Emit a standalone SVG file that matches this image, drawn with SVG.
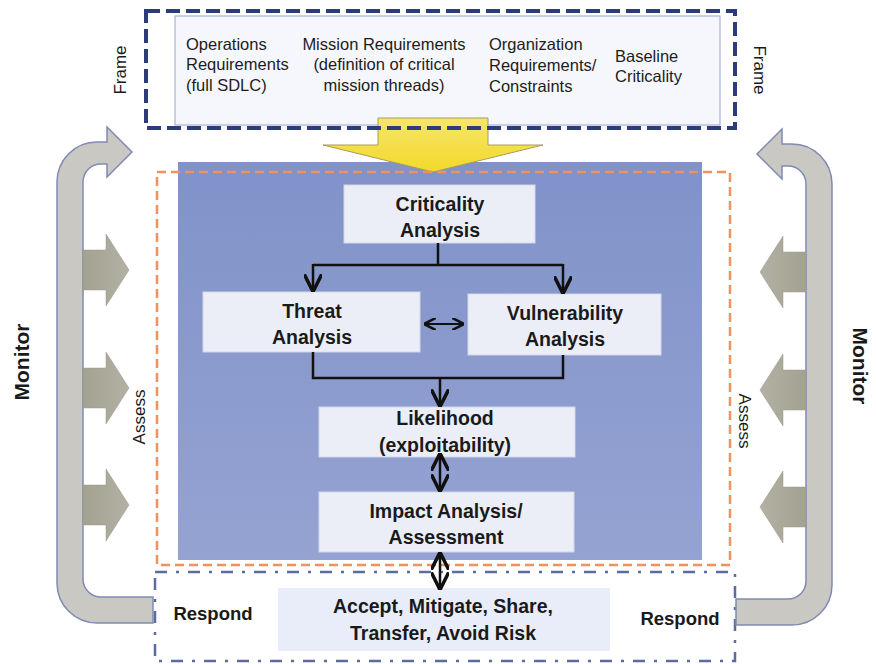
<svg xmlns="http://www.w3.org/2000/svg" width="876" height="664" viewBox="0 0 876 664">
<defs>
<linearGradient id="panelGrad" x1="0" y1="0" x2="0" y2="1">
<stop offset="0" stop-color="#8092c9"/>
<stop offset="1" stop-color="#95a3d2"/>
</linearGradient>
<linearGradient id="yellowGrad" x1="0" y1="0" x2="0" y2="1">
<stop offset="0" stop-color="#f6e56a"/>
<stop offset="1" stop-color="#f3d92a"/>
</linearGradient>
<linearGradient id="smallGrad" x1="0" y1="0" x2="1" y2="0">
<stop offset="0" stop-color="#a3a190"/>
<stop offset="1" stop-color="#b3b1a4"/>
</linearGradient>
<marker id="ahs" viewBox="0 0 10 10" refX="9" refY="5" markerWidth="7" markerHeight="7" orient="auto-start-reverse" markerUnits="strokeWidth">
<path d="M0,0 L10,5 L0,10" fill="none" stroke="#111" stroke-width="2"/>
</marker>
</defs>
<style>
.t{font-family:"Liberation Sans",Arial,sans-serif;font-size:16.5px;fill:#1c1c1c}
.b{font-family:"Liberation Sans",Arial,sans-serif;font-size:19.5px;font-weight:bold;fill:#1a1a1a;text-anchor:middle}
.side{font-family:"Liberation Sans",Arial,sans-serif;fill:#1a1a1a;text-anchor:middle}
.node{fill:#eceef7;stroke:#d2d6e8;stroke-width:1}
.big{fill:#c9c8c3;stroke:#7f8ab3;stroke-width:1.5}
.small{fill:url(#smallGrad);stroke:#9a988a;stroke-width:0.5}
.conn{fill:none;stroke:#111;stroke-width:2.5}
</style>

<!-- Frame section -->
<g id="frame">
<rect x="175" y="16" width="545" height="109" fill="#f6f7fc" stroke="#a9b1d3" stroke-width="1.2"/>
<text class="t" x="186" y="50">Operations</text>
<text class="t" x="186" y="70">Requirements</text>
<text class="t" x="186" y="91">(full SDLC)</text>
<text class="t" x="384" y="50" text-anchor="middle">Mission Requirements</text>
<text class="t" x="384" y="70" text-anchor="middle">(definition  of critical</text>
<text class="t" x="384" y="91" text-anchor="middle">mission threads)</text>
<text class="t" x="489" y="50">Organization</text>
<text class="t" x="489" y="71">Requirements/</text>
<text class="t" x="489" y="92">Constraints</text>
<text class="t" x="615" y="62">Baseline</text>
<text class="t" x="615" y="82">Criticality</text>
</g>

<!-- Assess panel -->
<g id="assess-panel">
<rect x="178" y="162" width="524" height="398" fill="url(#panelGrad)"/>
</g>

<!-- Yellow arrow -->
<g id="frame-arrow">
<path d="M378,118 L488,118 L488,145 L543,145 L433,172 L323,145 L378,145 Z" fill="url(#yellowGrad)" stroke="#a89c5a" stroke-width="1"/>
</g>

<rect x="146" y="11" width="589" height="117" fill="none" stroke="#2c3b7c" stroke-width="4" stroke-dasharray="14 6"/>
<rect x="157" y="172" width="573" height="393" fill="none" stroke="#f0915e" stroke-width="2.5" stroke-dasharray="9 5"/>
<rect x="155" y="572" width="580" height="89" fill="none" stroke="#5d6c9e" stroke-width="2.5" stroke-dasharray="12 9 3 9"/>

<!-- Monitor loops -->
<g id="monitor-left">
<path class="big" d="M107,142 L97,142 A40,40 0 0 0 57,182 L57,583 A40,40 0 0 0 97,623 L153,623 L153,597 L101,597 A18,18 0 0 1 83,579 L83,182 A18,18 0 0 1 101,164 L107,164 L107,177 L132,152 L107,127 Z"/>
<path class="small" d="M83,250 L106,250 L106,234 L129,270 L106,306 L106,290 L83,290 Z"/>
<path class="small" d="M83,368 L106,368 L106,352 L129,388 L106,424 L106,408 L83,408 Z"/>
<path class="small" d="M83,485 L106,485 L106,469 L129,505 L106,541 L106,525 L83,525 Z"/>
</g>
<g id="monitor-right" transform="translate(889,2) scale(-1,1)">
<path class="big" d="M107,142 L97,142 A40,40 0 0 0 57,182 L57,583 A40,40 0 0 0 97,623 L153,623 L153,597 L101,597 A18,18 0 0 1 83,579 L83,182 A18,18 0 0 1 101,164 L107,164 L107,177 L132,152 L107,127 Z"/>
<path class="small" d="M83,250 L106,250 L106,234 L129,270 L106,306 L106,290 L83,290 Z"/>
<path class="small" d="M83,368 L106,368 L106,352 L129,388 L106,424 L106,408 L83,408 Z"/>
<path class="small" d="M83,485 L106,485 L106,469 L129,505 L106,541 L106,525 L83,525 Z"/>
</g>

<!-- Side labels -->
<g id="labels">
<text class="side" font-size="17" transform="translate(126,70) rotate(-90)">Frame</text>
<text class="side" font-size="17" transform="translate(754,70) rotate(90)">Frame</text>
<text class="side" font-size="21" font-weight="bold" transform="translate(29,362) rotate(-90)">Monitor</text>
<text class="side" font-size="21" font-weight="bold" transform="translate(853,366) rotate(90)">Monitor</text>
<text class="side" font-size="17" transform="translate(145,417) rotate(-90)">Assess</text>
<text class="side" font-size="17" transform="translate(739,421) rotate(90)">Assess</text>
<text class="side" font-size="18.5" font-weight="bold" x="213" y="620">Respond</text>
<text class="side" font-size="18.5" font-weight="bold" x="680" y="625">Respond</text>
</g>

<!-- Nodes -->
<g id="criticality">
<rect class="node" x="344" y="185" width="191" height="58"/>
<text class="b" x="440" y="211">Criticality</text>
<text class="b" x="440" y="237">Analysis</text>
</g>
<g id="threat">
<rect class="node" x="203" y="292" width="217" height="60"/>
<text class="b" x="312" y="318">Threat</text>
<text class="b" x="312" y="344">Analysis</text>
</g>
<g id="vulnerability">
<rect class="node" x="468" y="294" width="193" height="61"/>
<text class="b" x="565" y="320">Vulnerability</text>
<text class="b" x="565" y="346">Analysis</text>
</g>
<g id="likelihood">
<rect class="node" x="319" y="407" width="256" height="50"/>
<text class="b" x="445" y="425">Likelihood</text>
<text class="b" x="445" y="452">(exploitability)</text>
</g>
<g id="impact">
<rect class="node" x="319" y="492" width="255" height="60"/>
<text class="b" x="446" y="518">Impact Analysis/</text>
<text class="b" x="446" y="544">Assessment</text>
</g>
<g id="respond">
<rect x="278" y="588" width="332" height="63" fill="#e9edf9"/>
<text class="b" x="443" y="613">Accept, Mitigate, Share,</text>
<text class="b" x="443" y="640">Transfer,  Avoid Risk</text>
</g>

<!-- Connectors -->
<g id="connectors">
<path class="conn" d="M438,243 L438,265 M313,265 L563,265"/>
<path class="conn" d="M313,264 L313,290" marker-end="url(#ahs)"/>
<path class="conn" d="M563,264 L563,292" marker-end="url(#ahs)"/>
<path class="conn" d="M313,352 L313,378 L563,378 L563,355"/>
<path class="conn" d="M440,377 L440,405" marker-end="url(#ahs)"/>
<path d="M425,324 L463,324" fill="none" stroke="#111" stroke-width="1.8" marker-start="url(#ahs)" marker-end="url(#ahs)"/>
<path class="conn" d="M440,455 L440,490" marker-start="url(#ahs)" marker-end="url(#ahs)"/>
<path class="conn" d="M440,554 L440,588" marker-start="url(#ahs)" marker-end="url(#ahs)"/>
</g>
</svg>
